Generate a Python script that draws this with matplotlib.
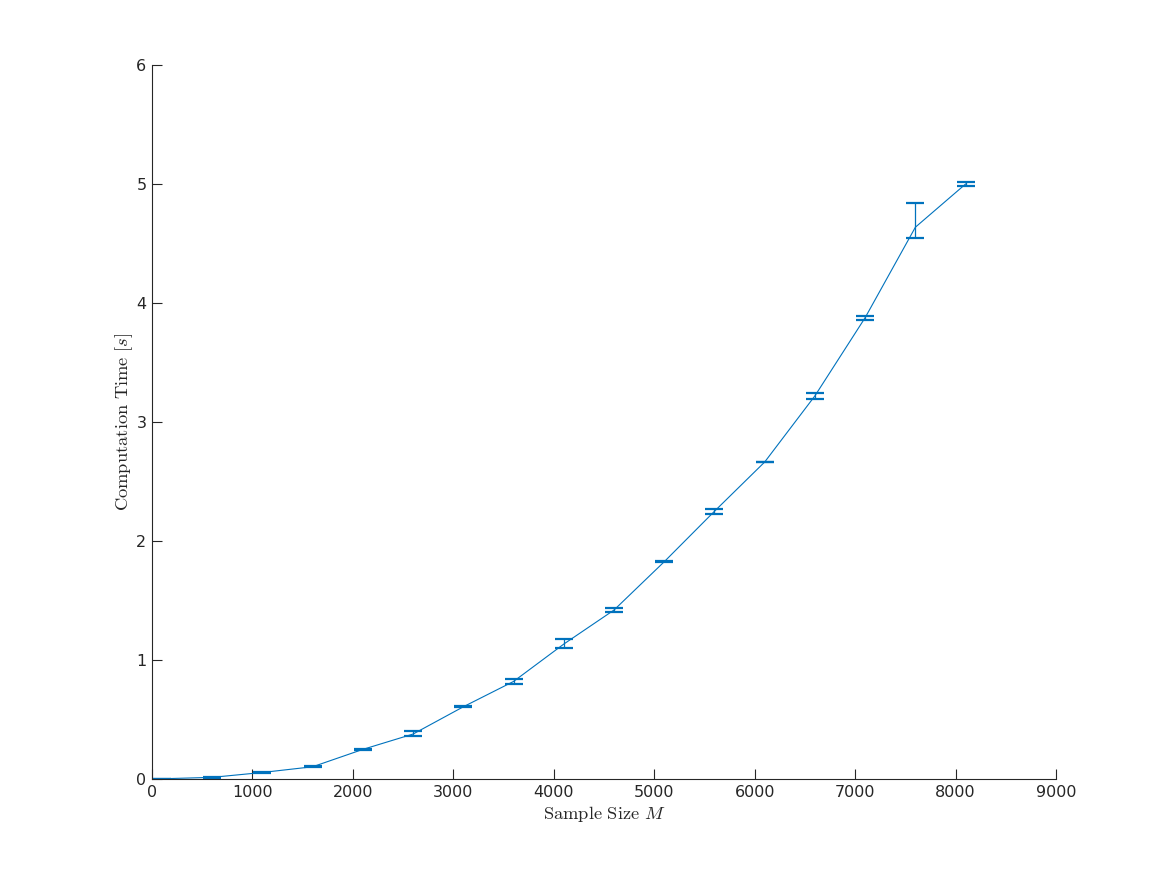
import numpy as np
import matplotlib
matplotlib.use('Agg')
import matplotlib.pyplot as plt

plt.rcParams['mathtext.fontset'] = 'cm'
plt.rcParams['font.family'] = ['DejaVu Sans']

# sample sizes and mean computation time with error bar limits
sample_size = [100, 600, 1100, 1600, 2100, 2600, 3100, 3600, 4100,
               4600, 5100, 5600, 6100, 6600, 7100, 7600, 8100]
time_mean = [0.002, 0.014, 0.055, 0.103, 0.249, 0.378, 0.607, 0.82, 1.134,
             1.42, 1.826, 2.25, 2.664, 3.22, 3.877, 4.637, 5.0]
time_lower = [0.0, 0.012, 0.052, 0.100, 0.243, 0.358, 0.603, 0.80, 1.098,
              1.403, 1.822, 2.23, 2.660, 3.196, 3.86, 4.544, 4.98]
time_upper = [0.004, 0.016, 0.058, 0.106, 0.255, 0.40, 0.611, 0.84, 1.174,
              1.437, 1.830, 2.269, 2.668, 3.241, 3.893, 4.838, 5.02]

x_ticks = [0, 1000, 2000, 3000, 4000, 5000, 6000, 7000, 8000, 9000]
y_ticks = [0, 1, 2, 3, 4, 5, 6]

color = '#0072BD'
axis_col = '#262626'

fig = plt.figure(figsize=(11.67, 8.75), dpi=100)
ax = fig.add_axes([0.1302, 0.1097, 0.7747, 0.816])

mean = np.array(time_mean)
yerr = np.vstack([mean - np.array(time_lower), np.array(time_upper) - mean])
ax.errorbar(sample_size, mean, yerr=yerr, color=color, linewidth=0.8,
            elinewidth=0.9, capsize=6.5, capthick=1.6)

ax.set_xlim(0, 9000)
ax.set_ylim(0, 6)
ax.set_xticks(x_ticks)
ax.set_yticks(y_ticks)
ax.spines['top'].set_visible(False)
ax.spines['right'].set_visible(False)
for s in ['left', 'bottom']:
    ax.spines[s].set_color(axis_col)
    ax.spines[s].set_linewidth(0.8)
ax.tick_params(direction='in', length=7, width=0.8, colors=axis_col,
               labelsize=11.5, pad=4)

ax.set_xlabel(r'$\mathrm{Sample\ Size\ }M$', fontsize=13.3, color=axis_col, labelpad=3)
ax.set_ylabel(r'$\mathrm{Computation\ Time\ [}s\mathrm{]}$', fontsize=13.3,
              color=axis_col, labelpad=1)

fig.savefig('out.png', dpi=100, facecolor='white')
